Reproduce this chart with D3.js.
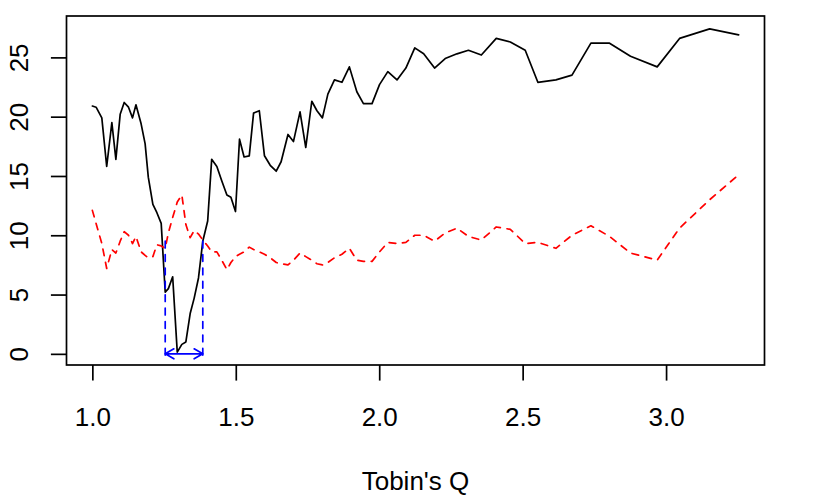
<!DOCTYPE html>
<meta charset="utf-8">
<head>
    <title></title>
    <script src="https://cdn.jsdelivr.net/npm/d3@7"></script>
</head>

<style>
    body{ margin:0; background:#fff; }
    text{
      font-family: "Liberation Sans", Arial, sans-serif;
      font-size:26px;
    }
</style>
<svg width="830" height="498"></svg>

<script>
    // Tobin's Q grid (x) and the two curves
    var tobinQ = [1.000,1.013,1.033,1.050,1.068,1.082,1.097,1.111,1.126,1.140,
                  1.152,1.170,1.184,1.195,1.211,1.225,1.240,1.254,1.265,1.280,
                  1.296,1.312,1.326,1.341,1.355,1.370,1.385,1.402,1.416,1.434,
                  1.451,1.469,1.483,1.499,1.513,1.529,1.547,1.562,1.582,1.600,
                  1.620,1.641,1.658,1.682,1.701,1.724,1.744,1.765,1.783,1.802,
                  1.821,1.844,1.870,1.896,1.922,1.945,1.975,2.001,2.030,2.062,
                  2.093,2.124,2.155,2.193,2.230,2.271,2.311,2.356,2.408,2.457,
                  2.509,2.553,2.616,2.672,2.738,2.803,2.876,2.969,3.047,3.152,
                  3.253];
    var solidVals = [20.9,20.8,19.9,15.8,19.5,16.4,20.2,21.2,20.8,19.9,
                     21.0,19.4,17.7,14.9,12.6,11.9,11.0,5.2,5.5,6.5,
                     0.15,0.8,1.0,3.4,4.7,6.4,9.5,11.2,16.4,15.8,
                     14.6,13.4,13.2,12.0,18.1,16.6,16.7,20.3,20.5,16.7,
                     15.9,15.4,16.2,18.5,17.9,20.4,17.4,21.3,20.5,19.9,
                     21.9,23.1,22.9,24.2,22.1,21.1,21.1,22.7,23.8,23.1,
                     24.1,25.8,25.3,24.1,24.9,25.3,25.6,25.2,26.6,26.3,
                     25.6,22.9,23.1,23.5,26.2,26.2,25.1,24.2,26.6,27.4,
                     26.9];
    var dashedVals = [12.1,11.0,9.3,7.2,8.8,8.5,9.5,10.3,10.0,9.3,
                      9.9,8.6,8.3,8.1,8.2,9.2,9.1,8.9,10.2,11.5,
                      12.8,13.4,10.9,9.8,10.4,10.1,9.6,9.1,8.6,8.6,
                      7.9,7.1,7.7,8.2,8.4,8.6,9.0,8.8,8.6,8.4,
                      8.1,7.7,7.6,7.5,7.9,8.5,8.2,7.9,7.6,7.5,
                      7.7,8.1,8.4,8.9,7.9,7.8,7.8,8.6,9.4,9.3,
                      9.4,10.0,10.0,9.5,10.2,10.6,9.9,9.6,10.7,10.5,
                      9.3,9.4,8.9,10.0,10.8,9.9,8.5,7.9,10.6,13.0,
                      15.1];
    var xTicks = [1.0,1.5,2.0,2.5,3.0],
        yTicks = [0,5,10,15,20,25];
    var band = [1.254,1.385],  // blue interval on the x axis
        bandTop = 9.5;

    var box = {left:66.5, right:764.5, top:16, bottom:365},
        lw = 1.7,
        tick = 15.6;

    var svg = d3.select('svg');

    // R-style 4% padding on the data range
    function pad(ext){
        var d = (ext[1]-ext[0])*0.04;
        return [ext[0]-d, ext[1]+d];
    }

    var x = d3.scaleLinear().domain(pad(d3.extent(tobinQ))).range([box.left, box.right]);
    var y = d3.scaleLinear().domain(pad(d3.extent(solidVals.concat(dashedVals)))).range([box.bottom, box.top]);

    var solid = tobinQ.map(function(q,i){ return [q, solidVals[i]]; }),
        dashed = tobinQ.map(function(q,i){ return [q, dashedVals[i]]; });

    var line = d3.line().x(function(d){ return x(d[0]); }).y(function(d){ return y(d[1]); });

    svg.append('path').datum(solid)
        .attr('d', line)
        .attr('fill','none').attr('stroke','#000').attr('stroke-width',lw)
        .attr('stroke-linejoin','round').attr('stroke-linecap','round');

    svg.append('path').datum(dashed)
        .attr('d', line)
        .attr('fill','none').attr('stroke','#ff0000').attr('stroke-width',lw)
        .attr('stroke-dasharray','6.7,6.7')
        .attr('stroke-linejoin','round').attr('stroke-linecap','round');

    // blue band: two dashed verticals and a double arrow at 0
    band.forEach(function(b){
        svg.append('line')
            .attr('x1', x(b)).attr('x2', x(b))
            .attr('y1', y(bandTop)).attr('y2', y(-0.6))
            .attr('stroke','#0000ff').attr('stroke-width',lw)
            .attr('stroke-dasharray','6.7,6.7').attr('stroke-linecap','round');
    });
    var ax0 = x(band[0]), ax1 = x(band[1]), ay = y(0),
        hl = 10, hx = hl*Math.cos(Math.PI/6), hy = hl*Math.sin(Math.PI/6);
    svg.append('path')
        .attr('d', 'M'+ax0+','+ay+'L'+ax1+','+ay+
                   'M'+(ax0+hx)+','+(ay-hy)+'L'+ax0+','+ay+'L'+(ax0+hx)+','+(ay+hy)+
                   'M'+(ax1-hx)+','+(ay-hy)+'L'+ax1+','+ay+'L'+(ax1-hx)+','+(ay+hy))
        .attr('fill','none').attr('stroke','#0000ff').attr('stroke-width',lw)
        .attr('stroke-linecap','round').attr('stroke-linejoin','round');

    // axes
    var gx = svg.append('g').attr('transform','translate(0,'+box.bottom+')')
        .call(d3.axisBottom(x).tickValues(xTicks).tickFormat(d3.format('.1f')).tickSize(tick).tickSizeOuter(0));
    gx.select('.domain').remove();
    gx.selectAll('line').attr('stroke','#000').attr('stroke-width',lw);
    gx.selectAll('text').attr('y',61).attr('dy',null)
        .attr('fill','#000').style('font-size','26px').style('font-family','"Liberation Sans", Arial, sans-serif');

    var gy = svg.append('g').attr('transform','translate('+box.left+',0)')
        .call(d3.axisLeft(y).tickValues(yTicks).tickSize(tick).tickSizeOuter(0));
    gy.select('.domain').remove();
    gy.selectAll('line').attr('stroke','#000').attr('stroke-width',lw);
    gy.selectAll('text')
        .attr('transform','rotate(-90)')
        .attr('x',0).attr('y',-38.5).attr('dy',null)
        .attr('text-anchor','middle')
        .attr('fill','#000').style('font-size','26px').style('font-family','"Liberation Sans", Arial, sans-serif');

    // plot box
    svg.append('rect')
        .attr('x',box.left).attr('y',box.top)
        .attr('width',box.right-box.left).attr('height',box.bottom-box.top)
        .attr('fill','none').attr('stroke','#000').attr('stroke-width',lw);

    svg.append('text')
        .attr('x',(box.left+box.right)/2).attr('y',490)
        .attr('text-anchor','middle')
        .text("Tobin's Q");
</script>
